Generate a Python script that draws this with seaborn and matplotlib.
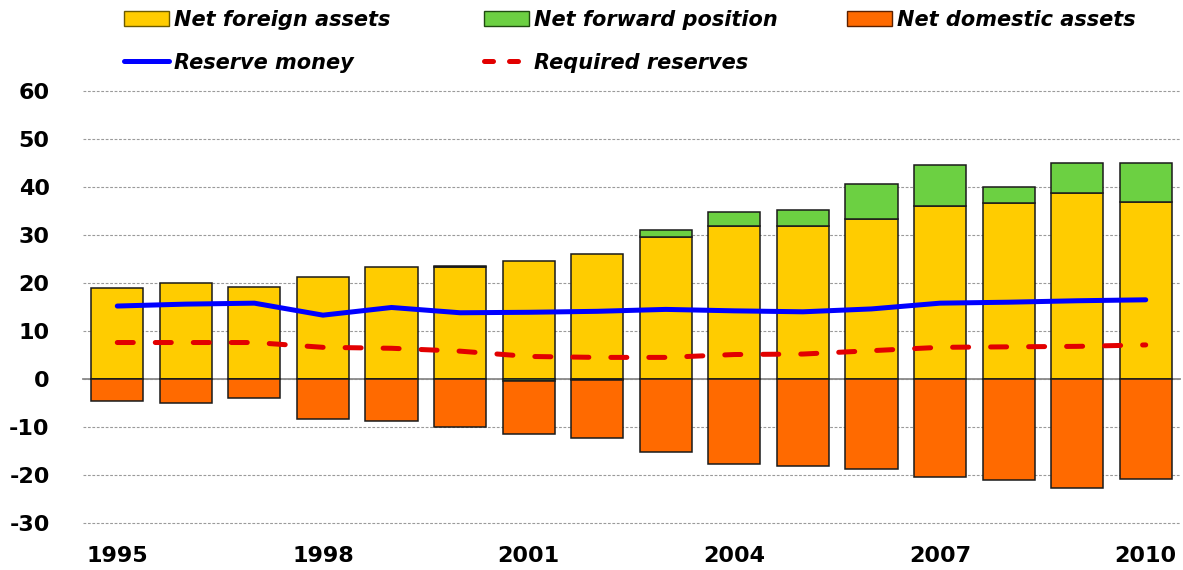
import numpy as np
import pandas as pd
import matplotlib
matplotlib.use("Agg")
import matplotlib.pyplot as plt
from matplotlib.patches import Patch
from matplotlib.lines import Line2D
import seaborn as sns

# ---------------- data ----------------
years = list(range(1995, 2011))
net_foreign_assets = [19.0, 20.0, 19.2, 21.2, 23.4, 23.3, 24.6, 26.1, 29.6, 31.8,
                      31.9, 33.4, 36.0, 36.7, 38.8, 36.9]
net_forward_position = [0.0, 0.0, 0.0, 0.0, 0.0, 0.2, -0.4, -0.2, 1.4, 3.0,
                        3.4, 7.2, 8.6, 3.4, 6.3, 8.2]
net_domestic_assets = [-4.6, -5.0, -4.0, -8.3, -8.7, -9.9, -11.0, -12.0, -15.3, -17.7,
                       -18.1, -18.8, -20.4, -21.0, -22.7, -20.8]
reserve_money = [15.2, 15.6, 15.8, 13.3, 14.9, 13.8, 13.9, 14.1, 14.5, 14.2,
                 14.0, 14.6, 15.8, 16.0, 16.3, 16.5]
required_reserves = [7.6, 7.6, 7.6, 6.6, 6.4, 5.8, 4.7, 4.5, 4.5, 5.1,
                     5.2, 5.9, 6.6, 6.7, 6.8, 7.1]
tick_years = [1995, 1998, 2001, 2004, 2007, 2010]
labels = ["Net foreign assets", "Net forward position", "Net domestic assets",
          "Reserve money", "Required reserves"]

df = pd.DataFrame({
    "year": years,
    "nfa": net_foreign_assets,
    "nfp": net_forward_position,
    "nda": net_domestic_assets,
    "rm": reserve_money,
    "rr": required_reserves,
})
nfa_arr = np.array(net_foreign_assets)
nfp_arr = np.array(net_forward_position)
green_bottom = np.where(nfp_arr > 0, nfa_arr, 0.0)
orange_bottom = np.where(nfp_arr < 0, nfp_arr, 0.0)

# ---------------- style ----------------
sns.set_style("white")
plt.rcParams["font.family"] = ["DejaVu Sans"]
plt.rcParams["text.color"] = "black"
plt.rcParams["xtick.color"] = "black"
plt.rcParams["ytick.color"] = "black"

YELLOW = "#FFCC00"
GREEN = "#6CD042"
ORANGE = "#FF6A00"
BLUE = "#0000FF"
RED = "#E20000"
EDGE = "#1a1a1a"

W, H = 1183, 570
fig = plt.figure(figsize=(W / 100, H / 100), dpi=100)
ax = fig.add_axes([83 / W, 1 - 525.4 / H, (1180 - 83) / W, (525.4 - 88.6) / H])

bar_kw = dict(native_scale=True, width=0.76, edgecolor=EDGE, linewidth=1.1,
              saturation=1, errorbar=None, ax=ax, zorder=3)
sns.barplot(data=df, x="year", y="nfa", color=YELLOW, **bar_kw)
sns.barplot(data=df, x="year", y="nfp", color=GREEN, bottom=green_bottom, **bar_kw)
sns.barplot(data=df, x="year", y="nda", color=ORANGE, bottom=orange_bottom, **bar_kw)

sns.lineplot(data=df, x="year", y="rm", color=BLUE, linewidth=3.6, ax=ax,
             zorder=5, solid_capstyle="round")
sns.lineplot(data=df, x="year", y="rr", color=RED, linewidth=3.6, ax=ax,
             zorder=5, linestyle=(0, (3.2, 4.4)), dash_capstyle="round")

# ---------------- axes ----------------
ax.set_xlim(1994.5, 2010.5)
ax.set_ylim(-30.5, 60.5)
ax.set_xlabel("")
ax.set_ylabel("")

ax.set_yticks(np.arange(-30, 61, 10))
ax.set_yticklabels([f"{v:d}" for v in range(-30, 61, 10)])
ax.tick_params(axis="y", length=0, pad=24, labelsize=16, labelcolor="black")
for t in ax.get_yticklabels():
    t.set_fontweight("bold")
ax.yaxis.grid(True, linestyle=(0, (2.5, 1.5)), color="#9a9a9a", linewidth=0.8, zorder=0)
ax.set_axisbelow(True)

for s in ["top", "right", "left"]:
    ax.spines[s].set_visible(False)
ax.spines["bottom"].set_position(("data", 0))
ax.spines["bottom"].set_color("#8a8a8a")
ax.spines["bottom"].set_linewidth(1.3)
ax.spines["bottom"].set_zorder(2)
ax.set_xticks([y - 0.5 for y in tick_years])
ax.set_xticklabels([])
ax.tick_params(axis="x", direction="out", length=6, width=1.3, color="#8a8a8a")

sec = ax.secondary_xaxis(0)
sec.set_xticks(tick_years)
sec.set_xticklabels([str(y) for y in tick_years])
sec.tick_params(length=0, pad=15, labelsize=16, labelcolor="black")
for t in sec.get_xticklabels():
    t.set_fontweight("bold")
sec.spines["bottom"].set_visible(False)

# ---------------- legend (three fixed-position columns) ----------------
h_nfa = Patch(facecolor=YELLOW, edgecolor="#6b5a00", linewidth=1.0)
h_rm = Line2D([], [], color=BLUE, linewidth=3.6, solid_capstyle="round")
h_nfp = Patch(facecolor=GREEN, edgecolor="#1f4a10", linewidth=1.0)
h_rr = Line2D([], [], color=RED, linewidth=3.6, linestyle=(0, (1.8, 3.2)),
              dash_capstyle="round")
h_nda = Patch(facecolor=ORANGE, edgecolor="#5a2000", linewidth=1.0)

columns = [
    ([h_nfa, h_rm], [labels[0], labels[3]], 124),
    ([h_nfp, h_rr], [labels[1], labels[4]], 484),
    ([h_nda], [labels[2]], 847),
]
leg_kw = dict(loc="upper left", ncol=1, frameon=False, borderpad=0, borderaxespad=0,
              handlelength=2.15, handleheight=0.72, handletextpad=0.25,
              labelspacing=1.09, labelcolor="black",
              prop={"size": 15, "weight": "bold", "style": "italic"})
for hs, ls, xpx in columns:
    leg = fig.legend(hs, ls, bbox_to_anchor=(xpx / W, 1 - 10 / H), **leg_kw)

fig.savefig("out.png", dpi=100)
